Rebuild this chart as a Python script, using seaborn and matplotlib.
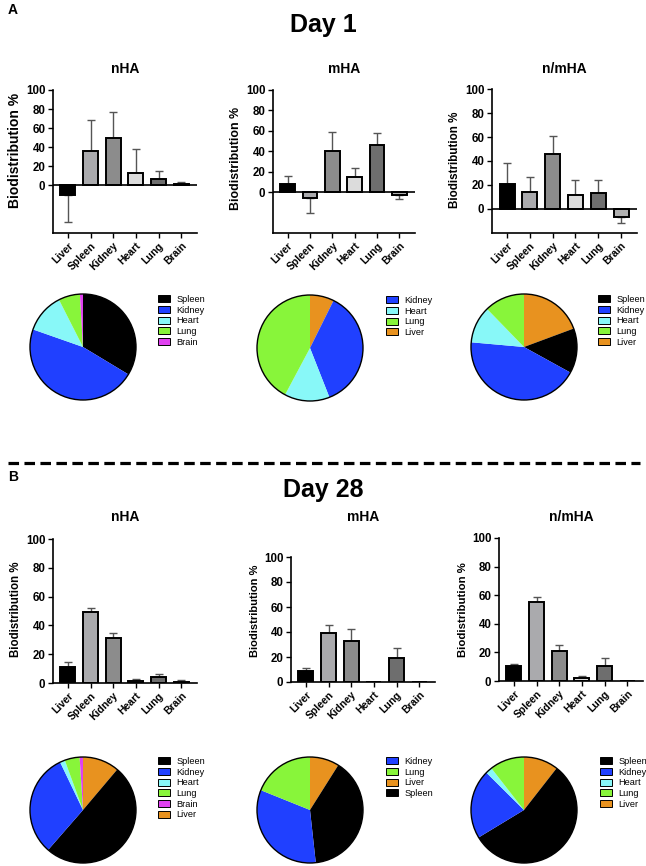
import numpy as np
import matplotlib
matplotlib.use("Agg")
import matplotlib.pyplot as plt
from matplotlib.patches import Patch, Circle
from matplotlib.lines import Line2D
import seaborn as sns

sns.set_style("ticks")
plt.rcParams['font.family'] = ['Liberation Sans', 'DejaVu Sans']
plt.rcParams.update({"text.color": "black", "axes.labelcolor": "black",
                     "xtick.color": "black", "ytick.color": "black",
                     "axes.edgecolor": "black"})

organs = ["Liver", "Spleen", "Kidney", "Heart", "Lung", "Brain"]
groups = ["nHA", "mHA", "n/mHA"]

# Day 1 - mean and SD (one sided error bars as in the original)
d1_nha_mean = [-10, 36, 50, 13, 7, 1]
d1_nha_sd = [28, 33, 27, 25, 8, 2.5]
d1_mha_mean = [8, -5.5, 40, 15, 46, -2.5]
d1_mha_sd = [8, 14.5, 19, 9, 12, 4.5]
d1_nmha_mean = [20.5, 14.5, 46, 12, 13, -6.5]
d1_nmha_sd = [18, 12.5, 15, 12, 11, 5]

# Day 28
d28_nha_mean = [11, 49.5, 31, 1.5, 4.5, 1]
d28_nha_sd = [3.5, 2.5, 4, 1, 2, 1]
d28_mha_mean = [9, 39.5, 33, 0, 19, 0]
d28_mha_sd = [2.5, 6.5, 9.5, 0, 8, 0]
d28_nmha_mean = [10.5, 55.5, 21, 2, 10.5, 0]
d28_nmha_sd = [1.5, 3.5, 4, 1.5, 5.5, 0]

# legend order of the pies
d1_legends = [["Spleen", "Kidney", "Heart", "Lung", "Brain"],
              ["Kidney", "Heart", "Lung", "Liver"],
              ["Spleen", "Kidney", "Heart", "Lung", "Liver"]]
d28_legends = [["Spleen", "Kidney", "Heart", "Lung", "Brain", "Liver"],
               ["Kidney", "Lung", "Liver", "Spleen"],
               ["Spleen", "Kidney", "Heart", "Lung", "Liver"]]

bar_colors = {"Liver": "#000000", "Spleen": "#a9a9ae", "Kidney": "#8c8c8c",
              "Heart": "#dcdcdc", "Lung": "#6e6e6e", "Brain": "#b0b0b0"}
pie_colors = {"Liver": "#e8921f", "Spleen": "#000000", "Kidney": "#2040ff",
              "Heart": "#88f8f8", "Lung": "#88f53a", "Brain": "#e040f0"}

W, H = 646, 866
fig = plt.figure(figsize=(W / 100, H / 100), dpi=100)


def px_axes(l, t, w, h):
    return fig.add_axes([l / W, 1 - (t + h) / H, w / W, h / H])


def bar_panel(rect, mean, sd, ymin, title, title_y, ylab_size, ylab_y):
    ax = px_axes(*rect)
    sns.barplot(x=organs, y=mean, hue=organs, palette=bar_colors, legend=False,
                edgecolor="black", linewidth=1.4, width=0.66, errorbar=None, ax=ax)
    mean = np.array(mean, dtype=float)
    sd = np.array(sd, dtype=float)
    lo = np.where(mean < 0, sd, 0)
    hi = np.where(mean >= 0, sd, 0)
    keep = sd > 0
    x = np.arange(len(organs))
    ax.errorbar(x[keep], mean[keep], yerr=[lo[keep], hi[keep]], fmt="none",
                ecolor="#555555", elinewidth=1, capsize=3, capthick=1, zorder=0.9)
    for p in ax.patches:
        p.set_zorder(2)
    if ymin < 0:
        ax.axhline(0, color="black", lw=1.2, zorder=3)
    ax.set_xlim(-0.66, 5.7)
    ax.set_ylim(ymin, 100)
    ax.set_yticks([0, 20, 40, 60, 80, 100])
    ax.set_yticklabels(["0", "20", "40", "60", "80", "100"], fontsize=8.3, fontweight="bold")
    ax.set_xticks(range(len(organs)))
    ax.set_xticklabels(organs, rotation=45, ha="right", rotation_mode="anchor",
                       fontsize=7.5, fontweight="bold")
    ax.tick_params(axis="both", direction="out", length=3.5, width=1, pad=2)
    sns.despine(ax=ax)
    for s in ["left", "bottom"]:
        ax.spines[s].set_linewidth(1.2)
    ax.set_xlabel("")
    ax.set_ylabel("Biodistribution %", fontsize=ylab_size, fontweight="bold")
    ax.yaxis.set_label_coords(-0.215, ylab_y)
    l, t, w, h = rect
    fig.text((l + w / 2) / W, 1 - title_y / H, title, fontsize=10, fontweight="bold",
             ha="center", va="center")
    return ax


def pie_panel(cx, cy, mean, legend_order, leg_x, leg_y):
    r = 53 * 1.03
    ax = px_axes(cx - r, cy - r, 2 * r, 2 * r)
    labs = [o for o, m in zip(organs, mean) if m > 0]
    vals = [m for m in mean if m > 0]
    ax.pie(vals, colors=[pie_colors[o] for o in labs], startangle=90,
           counterclock=False, wedgeprops=dict(linewidth=0))
    ax.add_patch(Circle((0, 0), 1, fill=False, ec="black", lw=1))
    ax.set_xlim(-1.03, 1.03)
    ax.set_ylim(-1.03, 1.03)
    handles = [Patch(facecolor=pie_colors[o], edgecolor="black", linewidth=0.7, label=o)
               for o in legend_order]
    fig.legend(handles=handles, loc="upper left", bbox_to_anchor=(leg_x / W, 1 - leg_y / H),
               frameon=False, fontsize=6.6, handlelength=1.35, handleheight=0.8,
               handletextpad=0.65, labelspacing=0.18, borderpad=0, borderaxespad=0)


# Day 1 panels
d1_means = [d1_nha_mean, d1_mha_mean, d1_nmha_mean]
d1_sds = [d1_nha_sd, d1_mha_sd, d1_nmha_sd]
d1_rects = [(53, 90, 144, 143), (273, 90, 142, 143), (492, 89, 145, 144)]
d1_ymin = [-50, -40, -20]
d1_ylab = [(10, 0.58), (8.9, 0.52), (8.4, 0.51)]
d1_pies = [(83, 347, 158, 295), (310, 348, 386, 296), (524, 347, 598, 295)]
for i in range(3):
    bar_panel(d1_rects[i], d1_means[i], d1_sds[i], d1_ymin[i], groups[i], 69, *d1_ylab[i])
    cx, cy, lx, ly = d1_pies[i]
    pie_panel(cx, cy, d1_means[i], d1_legends[i], lx, ly)

# Day 28 panels
d28_means = [d28_nha_mean, d28_mha_mean, d28_nmha_mean]
d28_sds = [d28_nha_sd, d28_mha_sd, d28_nmha_sd]
d28_rects = [(53, 539, 144, 144), (291, 557, 144, 125), (499, 538, 144, 143)]
d28_ylab = [(8.3, 0.51), (8.0, 0.57), (8.2, 0.5)]
d28_pies = [(83, 810, 158, 757), (310, 810, 386, 757), (524, 810, 600, 757)]
for i in range(3):
    bar_panel(d28_rects[i], d28_means[i], d28_sds[i], 0, groups[i], 517, *d28_ylab[i])
    cx, cy, lx, ly = d28_pies[i]
    pie_panel(cx, cy, d28_means[i], d28_legends[i], lx, ly)

# headers and separator
fig.text(8 / W, 1 - 10 / H, "A", fontsize=10, fontweight="bold", va="center")
fig.text(8 / W, 1 - 477 / H, "B", fontsize=10, fontweight="bold", va="center")
fig.text(323 / W, 1 - 25 / H, "Day 1", fontsize=18, fontweight="bold", ha="center", va="center")
fig.text(323 / W, 1 - 490 / H, "Day 28", fontsize=18, fontweight="bold", ha="center", va="center")
fig.add_artist(Line2D([8 / W, 640 / W], [1 - 463 / H, 1 - 463 / H], color="black",
                      lw=2.3, dashes=(3.3, 1.7)))

fig.savefig("out.png", dpi=100)
